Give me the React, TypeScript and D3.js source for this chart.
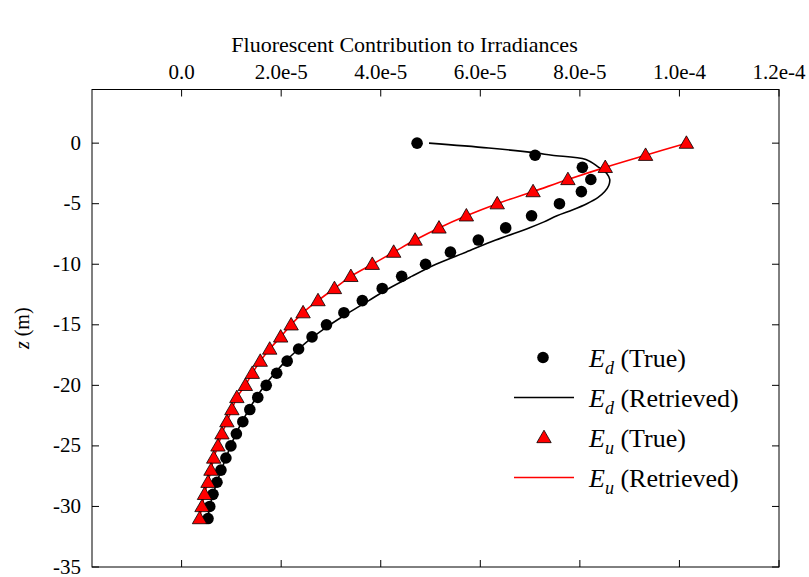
import React from 'react';
import * as d3 from 'd3';

// depth of the sampled points (m)
const depths = [0, -1, -2, -3, -4, -5, -6, -7, -8, -9, -10, -11, -12, -13, -14, -15,
  -16, -17, -18, -19, -20, -21, -22, -23, -24, -25, -26, -27, -28, -29, -30, -31];

// irradiances in units of 1e-5
const edTrue = [4.73, 7.10, 8.05, 8.22, 8.03, 7.59, 7.03, 6.51, 5.96, 5.40, 4.90, 4.42, 4.03, 3.63,
  3.26, 2.91, 2.62, 2.35, 2.12, 1.91, 1.70, 1.53, 1.37, 1.23, 1.10, 0.99, 0.89, 0.79, 0.71, 0.63, 0.565, 0.53];
const euTrue = [10.14, 9.32, 8.51, 7.76, 7.06, 6.34, 5.72, 5.17, 4.69, 4.26, 3.83, 3.40, 3.07, 2.74,
  2.44, 2.20, 1.99, 1.77, 1.58, 1.42, 1.28, 1.11, 1.01, 0.91, 0.81, 0.73, 0.645, 0.59, 0.53, 0.46, 0.41, 0.36];

const edRetDepths = [0, -0.4, -0.8, -1, -1.35, -2, -2.5, -3, -3.5, -4, -4.5, -5, -5.5, -6, -6.5, -7,
  -8, -9, -10, -11, -12, -13, -14, -15, -16, -17, -18, -19, -20, -22, -24, -26, -28, -30, -31];
const edRetrieved = [4.97, 6.17, 7.10, 7.44, 8.12, 8.38, 8.54, 8.60, 8.58, 8.50, 8.36, 8.14, 7.86, 7.54,
  7.28, 6.98, 6.31, 5.71, 5.11, 4.62, 4.16, 3.76, 3.36, 2.98, 2.64, 2.35, 2.09, 1.87, 1.67, 1.35, 1.09,
  0.89, 0.71, 0.565, 0.53];
const euRetrieved = [10.14, 9.32, 8.51, 7.76, 7.06, 6.34, 5.72, 5.17, 4.69, 4.26, 3.83, 3.40, 3.07, 2.74,
  2.44, 2.20, 1.99, 1.77, 1.58, 1.42, 1.28, 1.11, 1.01, 0.91, 0.81, 0.73, 0.645, 0.59, 0.53, 0.46, 0.41, 0.36];

const xTicks = [0, 2e-5, 4e-5, 6e-5, 8e-5, 1e-4, 1.2e-4];
const xTickLabels = ['0.0', '2.0e-5', '4.0e-5', '6.0e-5', '8.0e-5', '1.0e-4', '1.2e-4'];
const yTicks = [0, -5, -10, -15, -20, -25, -30, -35];

const FONT = '"Liberation Serif", "Times New Roman", serif';

export default function App() {
  const W = 809, H = 577;
  const left = 92, right = 779, top = 89.5, bottom = 567;

  const x = d3.scaleLinear().domain([-1.8e-5, 1.2e-4]).range([left, right]);
  const y = d3.scaleLinear().domain([-35, 4.43]).range([bottom, top]);

  const edLine = d3.line<number>()
    .x(d => x(edRetrieved[d] * 1e-5))
    .y(d => y(edRetDepths[d]))
    .curve(d3.curveCatmullRom);
  const euLine = d3.line<number>()
    .x(d => x(euRetrieved[d] * 1e-5))
    .y(d => y(depths[d]))
    .curve(d3.curveCatmullRom);

  const tri = d3.symbol().type(d3.symbolTriangle).size(90)();
  const tk = 7;

  const legend = [
    { sub: 'd', label: '(True)', kind: 'dot' },
    { sub: 'd', label: '(Retrieved)', kind: 'black' },
    { sub: 'u', label: '(True)', kind: 'tri' },
    { sub: 'u', label: '(Retrieved)', kind: 'red' },
  ];

  return (
    <svg width={W} height={H} style={{ position: 'absolute', left: 0, top: 0, background: '#fff' }}
      fontFamily={FONT}>
      <rect x={0} y={0} width={W} height={H} fill="#fff" />
      <text x={W / 2} y={52} textAnchor="middle" fontSize={22}>
        Fluorescent Contribution to Irradiances
      </text>

      {/* frame and ticks */}
      <rect x={left} y={top} width={right - left} height={bottom - top} fill="none" stroke="#000" strokeWidth={1} />
      {xTicks.map((t, i) => (
        <g key={'x' + i}>
          <line x1={x(t)} x2={x(t)} y1={top} y2={top + tk} stroke="#000" />
          <line x1={x(t)} x2={x(t)} y1={bottom} y2={bottom - tk} stroke="#000" />
          <text x={x(t)} y={79} textAnchor="middle" fontSize={21}>{xTickLabels[i]}</text>
        </g>
      ))}
      {yTicks.map((t, i) => (
        <g key={'y' + i}>
          <line x1={left} x2={left + tk} y1={y(t)} y2={y(t)} stroke="#000" />
          <line x1={right} x2={right - tk} y1={y(t)} y2={y(t)} stroke="#000" />
          <text x={81} y={y(t) + 6.5} textAnchor="end" fontSize={21}>{t}</text>
        </g>
      ))}
      <text transform={`translate(29, ${(top + bottom) / 2}) rotate(-90)`} textAnchor="middle" fontSize={20}>
        <tspan fontStyle="italic">z</tspan> (m)
      </text>

      {/* retrieved curves */}
      <path d={edLine(edRetDepths.map((_, i) => i)) || ''} fill="none" stroke="#000" strokeWidth={1.6} />
      <path d={euLine(depths.map((_, i) => i)) || ''} fill="none" stroke="#ff0000" strokeWidth={1.6} />

      {/* true values */}
      {depths.map((z, i) => (
        <circle key={'d' + i} cx={x(edTrue[i] * 1e-5)} cy={y(z)} r={5.8} fill="#000" />
      ))}
      {depths.map((z, i) => (
        <path key={'u' + i} d={tri || ''} transform={`translate(${x(euTrue[i] * 1e-5)}, ${y(z) + 1})`}
          fill="#ff0000" stroke="#000" strokeWidth={0.8} />
      ))}

      {/* legend */}
      {legend.map((l, i) => {
        const cy = 357.5 + i * 40;
        return (
          <g key={'l' + i}>
            {l.kind === 'dot' && <circle cx={543} cy={cy} r={5.8} fill="#000" />}
            {l.kind === 'tri' && <path d={tri || ''} transform={`translate(544, ${cy + 1})`} fill="#ff0000" stroke="#000" strokeWidth={0.8} />}
            {l.kind === 'black' && <line x1={514} x2={574} y1={cy} y2={cy} stroke="#000" strokeWidth={1.6} />}
            {l.kind === 'red' && <line x1={514} x2={574} y1={cy} y2={cy} stroke="#ff0000" strokeWidth={1.6} />}
            <text x={589} y={cy + 9} fontSize={26}>
              <tspan fontStyle="italic">E</tspan>
              <tspan fontStyle="italic" fontSize={18} dy={7}>{l.sub}</tspan>
              <tspan dy={-7}> {l.label}</tspan>
            </text>
          </g>
        );
      })}
    </svg>
  );
}
